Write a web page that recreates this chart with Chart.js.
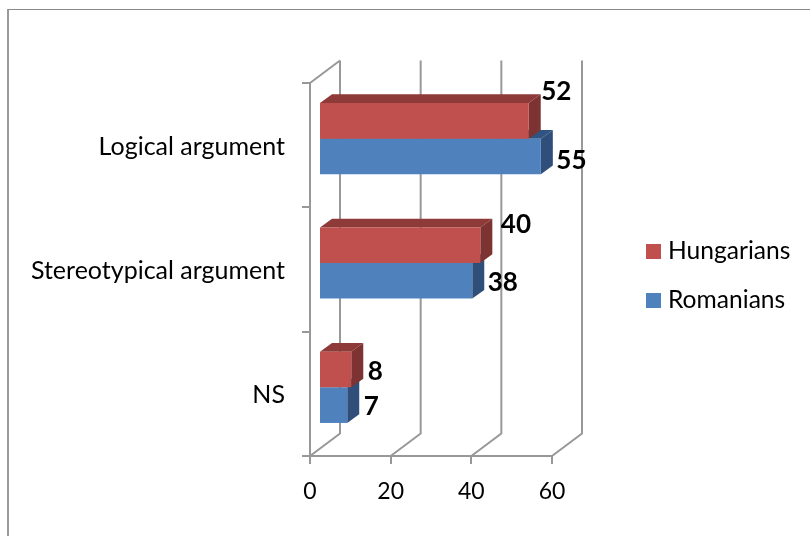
<!DOCTYPE html>
<html lang="en">
  <head>
    <meta charset="UTF-8" />
    <title>Arguments by group</title>
    <script src="https://cdn.jsdelivr.net/npm/chart.js"></script>
    <style>
      html,
      body {
        margin: 0;
        background: #fff;
      }
      .frame {
        position: absolute;
        left: 7px;
        top: 9px;
        width: 803px;
        height: 527px;
        border-top: 1.5px solid #8a8a8a;
        border-left: 2px solid #9a9a9a;
        box-sizing: border-box;
      }
      #chart {
        position: absolute;
        left: 0;
        top: 0;
      }
    </style>
  </head>
  <body>
    <div class="frame"></div>
    <canvas id="chart" width="810" height="536"></canvas>

    <script>
      const categories = ["Logical argument", "Stereotypical argument", "NS"];
      const hungarians = [52, 40, 8];
      const romanians = [55, 38, 7];
      const axisTicks = [0, 20, 40, 60];

      const axisColor = "#989898";
      const font = "Lato, sans-serif";

      // 3D look: how far the back wall and the bar tops sit behind the front plane
      const wallDepth = { x: 30, y: -22.5 };
      const barDepth = { x: 12, y: -8.7 };
      const barShift = { x: 9, y: -6.5 };

      // Hand-placed value labels: [dx from bar end, dy from bar centre], per dataset
      const labelOffsets = [
        [[12.5, -29], [20.5, -20.5], [16.5, 2]],
        [[15.5, 4], [15.5, 2], [16.5, 1]],
      ];

      function poly(ctx, color, pts) {
        ctx.fillStyle = color;
        ctx.beginPath();
        pts.forEach((p, i) => (i ? ctx.lineTo(p[0], p[1]) : ctx.moveTo(p[0], p[1])));
        ctx.closePath();
        ctx.fill();
      }

      const fake3d = {
        id: "fake3d",
        beforeDatasetsDraw(chart) {
          const { ctx, scales } = chart;
          const floorY = scales.y.bottom;
          const topY = scales.y.top;

          // back wall lines and floor diagonals
          ctx.save();
          ctx.strokeStyle = axisColor;
          ctx.lineWidth = 2;
          ctx.beginPath();
          axisTicks.forEach((t) => {
            const x = scales.x.getPixelForValue(t);
            ctx.moveTo(x, floorY);
            ctx.lineTo(x + wallDepth.x, floorY + wallDepth.y);
            ctx.lineTo(x + wallDepth.x, topY + wallDepth.y);
          });
          const left = scales.x.getPixelForValue(0);
          ctx.moveTo(left, topY);
          ctx.lineTo(left + wallDepth.x, topY + wallDepth.y);
          ctx.stroke();
          ctx.restore();

          // bars are pushed into the box a little
          ctx.save();
          ctx.translate(barShift.x, barShift.y);
        },
        beforeDatasetDraw(chart, args) {
          const { ctx } = chart;
          const ds = chart.data.datasets[args.index];
          chart.getDatasetMeta(args.index).data.forEach((bar) => {
            const top = bar.y - bar.height / 2;
            const bot = bar.y + bar.height / 2;
            const dx = barDepth.x;
            const dy = barDepth.y;
            poly(ctx, ds.topColor, [
              [bar.base, top],
              [bar.base + dx, top + dy],
              [bar.x + dx, top + dy],
              [bar.x, top],
            ]);
            poly(ctx, ds.sideColor, [
              [bar.x, top],
              [bar.x + dx, top + dy],
              [bar.x + dx, bot + dy],
              [bar.x, bot],
            ]);
          });
        },
        afterDatasetsDraw(chart) {
          const { ctx } = chart;
          ctx.restore();

          ctx.save();
          ctx.fillStyle = "#000";
          ctx.font = "bold 26px " + font;
          ctx.textAlign = "left";
          ctx.textBaseline = "middle";
          chart.data.datasets.forEach((ds, d) => {
            chart.getDatasetMeta(d).data.forEach((bar, i) => {
              const off = labelOffsets[d][i];
              ctx.fillText(
                ds.data[i],
                bar.x + barShift.x + off[0],
                bar.y + barShift.y + off[1]
              );
            });
          });

          // legend
          ctx.font = "24.6px " + font;
          chart.data.datasets.forEach((ds, d) => {
            const y = 251.5 + d * 49;
            ctx.fillStyle = ds.backgroundColor;
            ctx.fillRect(646, y - 7.5, 15, 15);
            ctx.fillStyle = "#000";
            ctx.fillText(ds.label, 668, y);
          });
          ctx.restore();
        },
      };

      new Chart(document.getElementById("chart"), {
        type: "bar",
        plugins: [fake3d],
        data: {
          labels: categories,
          datasets: [
            {
              label: "Hungarians",
              data: hungarians,
              backgroundColor: "#c0504d",
              topColor: "#8e3a38",
              sideColor: "#7d3331",
              clip: false,
            },
            {
              label: "Romanians",
              data: romanians,
              backgroundColor: "#4f81bd",
              topColor: "#2f5482",
              sideColor: "#2f4f7a",
              clip: false,
            },
          ],
        },
        options: {
          indexAxis: "y",
          responsive: false,
          animation: false,
          categoryPercentage: 0.573,
          barPercentage: 1,
          layout: { padding: { top: 83, bottom: 30, right: 258 } },
          scales: {
            x: {
              min: 0,
              max: 60,
              afterBuildTicks(scale) {
                scale.ticks = axisTicks.map((v) => ({ value: v }));
              },
              afterFit(scale) {
                scale.height = 50;
              },
              border: { color: axisColor, width: 2 },
              grid: { drawOnChartArea: false, color: axisColor, lineWidth: 2, tickLength: 8 },
              ticks: { color: "#000", font: { family: font, size: 23 }, padding: 14, maxRotation: 0 },
            },
            y: {
              afterFit(scale) {
                scale.width = 310;
              },
              border: { color: axisColor, width: 2 },
              grid: { drawOnChartArea: false, color: axisColor, lineWidth: 2, tickLength: 8, offset: true },
              ticks: { color: "#000", font: { family: font, size: 25 }, padding: 17, labelOffset: 1.5 },
            },
          },
          plugins: {
            tooltip: { enabled: false },
            legend: { display: false },
          },
        },
      });
    </script>
  </body>
</html>
